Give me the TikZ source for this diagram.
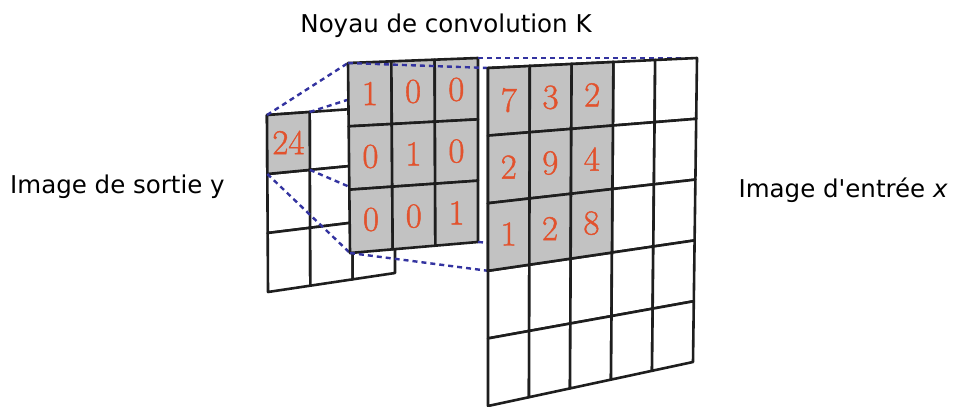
\documentclass[tikz,border=0pt]{standalone}
\usepackage{fontspec}
\newfontfamily\labelfont{DejaVu Sans}
\newfontfamily\numfont{Latin Modern Roman}[FakeBold=1.2]
\usetikzlibrary{calc}
\definecolor{gridc}{HTML}{1E1E1E}
\definecolor{cellgray}{HTML}{C2C2C2}
\definecolor{numred}{HTML}{E2522D}
\definecolor{dashblue}{HTML}{3333A0}
\newcommand\mkgrid[7]{%
  \foreach \i in {0,...,#6}{\foreach \j in {0,...,#7}{%
    \coordinate (#1-\i-\j) at ($ ($(#2)!\i/#6!(#3)$)!\j/#7!($(#4)!\i/#6!(#5)$) $);
  }}}
\newcommand\drawcells[3]{% name, ncols-1, nrows-1
  \foreach \i in {0,...,#2}{\foreach \j in {0,...,#3}{%
    \pgfmathtruncatemacro\ii{\i+1}\pgfmathtruncatemacro\jj{\j+1}%
    \draw[cellbox] (#1-\i-\j) -- (#1-\ii-\j) -- (#1-\ii-\jj) -- (#1-\i-\jj) -- cycle;
  }}}
\newcommand\graycell[3]{% name, i, j
  \pgfmathtruncatemacro\ii{#2+1}\pgfmathtruncatemacro\jj{#3+1}%
  \draw[cellbox,fill=cellgray] (#1-#2-#3) -- (#1-\ii-#3) -- (#1-\ii-\jj) -- (#1-#2-\jj) -- cycle;}
\newcommand\numcell[4]{% name, i, j, text
  \pgfmathtruncatemacro\ii{#2+1}\pgfmathtruncatemacro\jj{#3+1}%
  \node[numtxt] (#1-n-#2-#3) at ($(#1-#2-#3)!0.5!(#1-\ii-\jj)$) {#4};}
\tikzset{
  cellbox/.style={draw=gridc, line width=2.6pt, fill=white, line join=round},
  numtxt/.style={text=numred, font=\numfont\fontsize{35}{35}\selectfont, inner sep=0pt},
  conn/.style={draw=dashblue, line width=2.4pt, dash pattern=on 5pt off 4pt},
  lbl/.style={font=\labelfont\fontsize{24.5}{24.5}\selectfont, text=black, inner sep=0pt},
}
\begin{document}
\begin{tikzpicture}[x=1pt,y=-1pt]
\useasboundingbox (0,0) rectangle (956,407);
% corner points
\coordinate (oTL) at (267,115); \coordinate (oTR) at (395,106);
\coordinate (oBL) at (268,292); \coordinate (oBR) at (395,273);
\coordinate (kTL) at (348,63);  \coordinate (kTR) at (478,58);
\coordinate (kBL) at (350,253); \coordinate (kBR) at (478,242);
\coordinate (iTL) at (488,68);  \coordinate (iTR) at (697,58);
\coordinate (iBL) at (488,406); \coordinate (iBR) at (693,362);
\mkgrid{o}{oTL}{oTR}{oBL}{oBR}{3}{3}
\mkgrid{k}{kTL}{kTR}{kBL}{kBR}{3}{3}
\mkgrid{g}{iTL}{iTR}{iBL}{iBR}{5}{5}
% output image
\drawcells{o}{2}{2}
\graycell{o}{0}{0}
\numcell{o}{0}{0}{24}
% connectors output -> kernel
\draw[conn] (o-0-0) -- (k-0-0);
\draw[conn] (o-1-0) -- (k-3-0);
\draw[conn] (o-0-1) -- (k-0-3);
\draw[conn] (o-1-1) -- (k-3-3);
% kernel
\foreach \i in {0,1,2}{\foreach \j in {0,1,2}{\graycell{k}{\i}{\j}}}
\numcell{k}{0}{0}{1}\numcell{k}{1}{0}{0}\numcell{k}{2}{0}{0}
\numcell{k}{0}{1}{0}\numcell{k}{1}{1}{1}\numcell{k}{2}{1}{0}
\numcell{k}{0}{2}{0}\numcell{k}{1}{2}{0}\numcell{k}{2}{2}{1}
% connectors kernel -> input
\draw[conn] (k-0-0) -- (g-0-0);
\draw[conn] (k-3-0) -- (g-5-0);
\draw[conn] (k-0-3) -- (g-0-3);
\draw[conn] (k-3-3) -- (g-3-3);
% input image
\drawcells{g}{4}{4}
\foreach \i in {0,1,2}{\foreach \j in {0,1,2}{\graycell{g}{\i}{\j}}}
\numcell{g}{0}{0}{7}\numcell{g}{1}{0}{3}\numcell{g}{2}{0}{2}
\numcell{g}{0}{1}{2}\numcell{g}{1}{1}{9}\numcell{g}{2}{1}{4}
\numcell{g}{0}{2}{1}\numcell{g}{1}{2}{2}\numcell{g}{2}{2}{8}
% labels
\node[lbl,anchor=base] (ltitle) at (446,32) {Noyau de convolution K};
\node[lbl,anchor=base west] (lout) at (10,193) {Image de sortie y};
\node[lbl,anchor=base east] (lin) at (948,197) {Image d'entrée \textit{x}};
\end{tikzpicture}
\end{document}
